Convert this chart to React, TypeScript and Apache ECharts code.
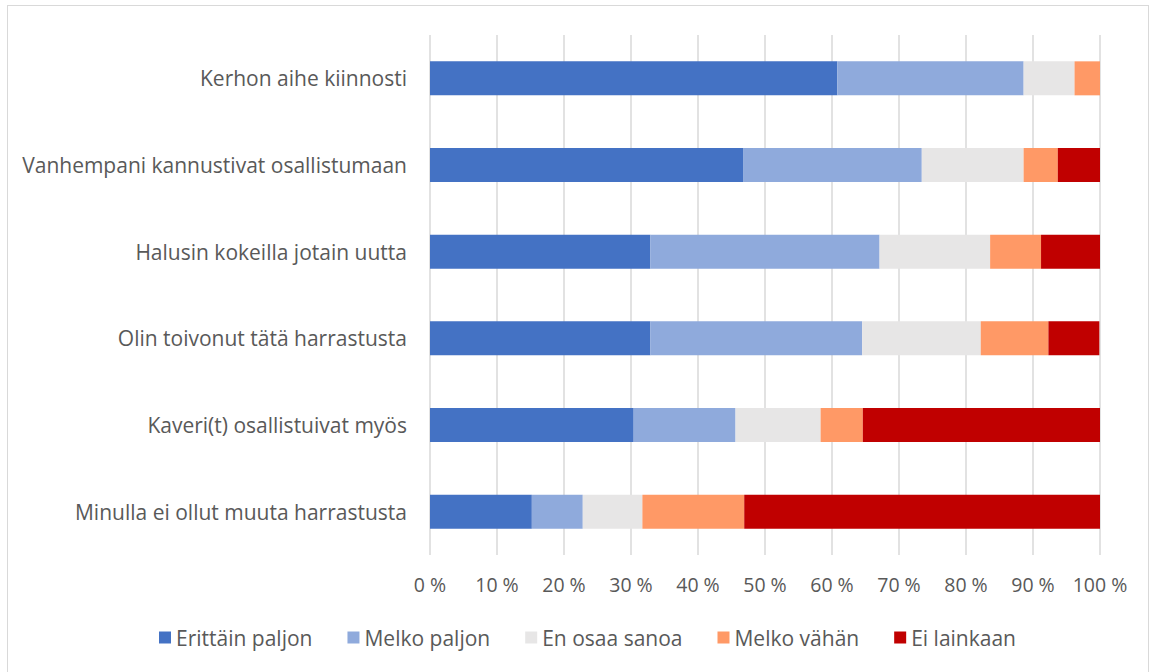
import React, { useEffect, useRef } from "react";
import * as echarts from "echarts";

const categories = [
  "Kerhon aihe kiinnosti",
  "Vanhempani kannustivat osallistumaan",
  "Halusin kokeilla jotain uutta",
  "Olin toivonut tätä harrastusta",
  "Kaveri(t) osallistuivat myös",
  "Minulla ei ollut muuta harrastusta",
];

const seriesNames = ["Erittäin paljon", "Melko paljon", "En osaa sanoa", "Melko vähän", "Ei lainkaan"];

const erittainPaljon = [60.8, 46.8, 32.9, 32.9, 30.4, 15.2];
const melkoPaljon = [27.8, 26.6, 34.2, 31.6, 15.2, 7.6];
const enOsaaSanoa = [7.6, 15.2, 16.5, 17.7, 12.7, 8.9];
const melkoVahan = [3.8, 5.1, 7.6, 10.1, 6.3, 15.2];
const eiLainkaan = [0, 6.3, 8.9, 7.6, 35.4, 53.2];

const colors = ["#4472C4", "#8FAADC", "#E7E6E6", "#FF9966", "#C00000"];

const FONT = "'Open Sans', 'Liberation Sans', sans-serif";
const TEXT = "#595959";

export default function App() {
  const ref = useRef<HTMLDivElement>(null);
  useEffect(() => {
    if (!ref.current) return;
    const chart = echarts.init(ref.current, null, { renderer: "svg" });
    const values = [erittainPaljon, melkoPaljon, enOsaaSanoa, melkoVahan, eiLainkaan];
    chart.setOption({
      animation: false,
      textStyle: { fontFamily: FONT },
      grid: { left: 422, top: 29, width: 670, height: 520 },
      legend: {
        top: 616,
        left: 146,
        itemWidth: 12,
        itemHeight: 12,
        itemGap: 35,
        icon: "rect",
        textStyle: { fontSize: 21, color: TEXT, fontFamily: FONT },
        data: seriesNames,
      },
      xAxis: {
        type: "value",
        min: 0,
        max: 100,
        interval: 10,
        axisLine: { show: false },
        axisTick: { show: false },
        splitLine: { show: true, lineStyle: { color: "#D9D9D9", width: 1.5 } },
        axisLabel: {
          formatter: (v: number) => v + " %",
          fontSize: 19.5,
          color: TEXT,
          margin: 19,
          fontFamily: FONT,
        },
      },
      yAxis: {
        type: "category",
        data: categories,
        inverse: true,
        axisLine: { show: false },
        axisTick: { show: false },
        axisLabel: { fontSize: 21, color: TEXT, margin: 23, fontFamily: FONT },
      },
      series: seriesNames.map((name, i) => ({
        name,
        type: "bar",
        stack: "total",
        barWidth: 34,
        data: values[i],
        itemStyle: { color: colors[i] },
      })),
    });
    return () => chart.dispose();
  }, []);
  return (
    <div style={{ position: "fixed", left: 0, top: 0, width: 1151, height: 672, overflow: "hidden", background: "#fff" }}>
      <div
        style={{
          position: "absolute",
          left: 7,
          top: 5,
          width: 1140,
          height: 700,
          border: "1px solid #D9D9D9",
          background: "#fff",
        }}
      >
        <div ref={ref} style={{ width: 1140, height: 700 }} />
      </div>
    </div>
  );
}
